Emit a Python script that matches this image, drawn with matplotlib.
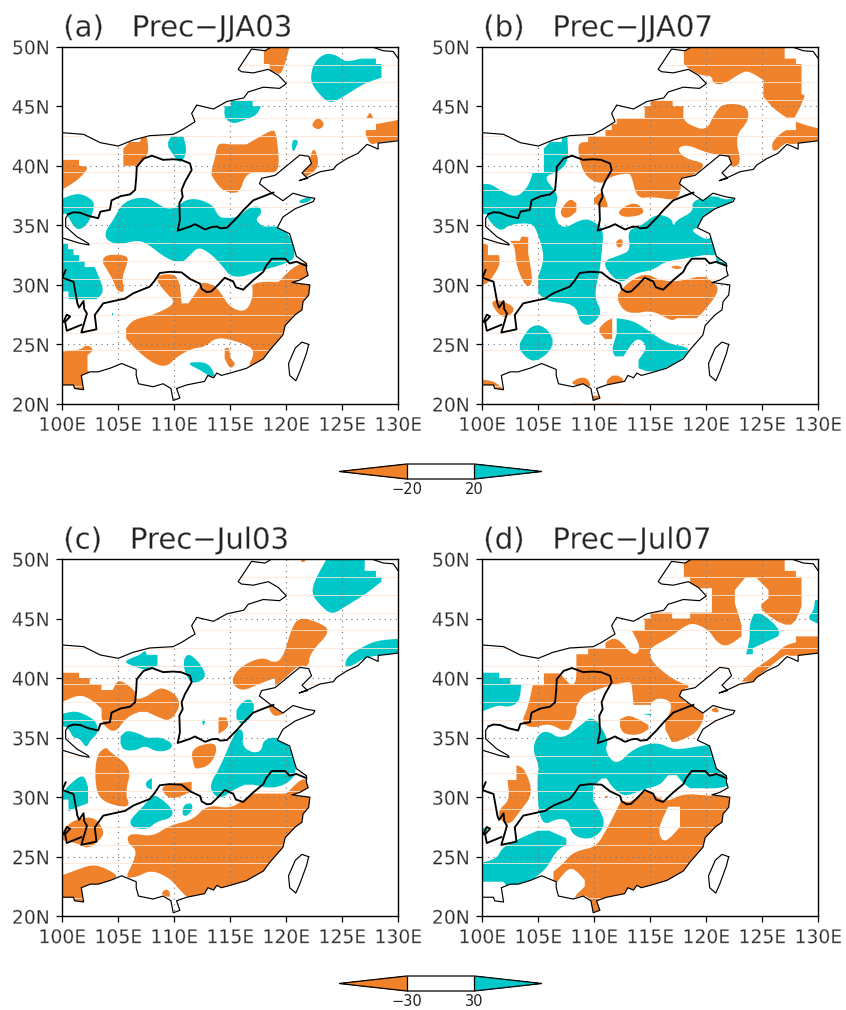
import matplotlib
matplotlib.use("Agg")
import matplotlib.pyplot as plt
import matplotlib.patheffects as pe
from matplotlib.colors import BoundaryNorm, ListedColormap
from matplotlib.colorbar import ColorbarBase
from matplotlib.patches import Polygon

ORANGE = "#f0822c"
TEAL = "#00c8c8"
PEACH = "#fee6d6"

# map outlines, (lon, lat)
north_border = [(100, 42.78), (101.9, 42.64), (103.4, 41.94), (105, 41.66), (106.3, 42.16), (107.8, 42.53),
                (109.9, 42.64), (110.65, 43), (111.85, 43.7), (111.55, 44.4), (112, 45.1), (113.5, 44.77),
                (114.7, 45.4), (116.2, 45.7), (116.6, 46.2), (117.95, 46.6), (119.4, 46.5), (120, 46.9),
                (119.3, 47.6), (118.4, 48.1), (117.05, 47.8), (116, 47.9), (115.7, 48.1), (116.9, 49.8),
                (118.1, 49.66), (118.7, 50)]
north_east = [(127.6, 50), (128.66, 49.66), (129.55, 49.6), (130, 49)]
coast = [(130, 42.1), (128.2, 41.9), (128.2, 41.4), (127.5, 41.7), (127.2, 41.8), (126.4, 41.05), (125.4, 40.6),
         (124.5, 40.06), (124.2, 39.7), (123, 39.5), (122.1, 39.1), (121.15, 38.75), (121.9, 38.95), (121.4, 39.4),
         (122.25, 40.2), (122, 40.8), (121.2, 40.9), (120.3, 40.2), (119, 39.2), (117.8, 38.95), (117.6, 38.5),
         (118.7, 37.7), (119.7, 37.07), (120.6, 37.7), (121.7, 37.4), (122.55, 37.27), (122.4, 37), (120.8, 36.4),
         (119.7, 35.7), (119.2, 34.8), (120.3, 34.3), (120.9, 32.4), (121.8, 31.8), (121.8, 31.25), (121.95, 30.8),
         (121.2, 30.4), (120.5, 30.2), (122.1, 30), (122, 29.15), (121.5, 28.6), (121.4, 27.9), (120.8, 27.5),
         (119.9, 26.6), (119.7, 25.8), (118.5, 24.5), (117.95, 23.8), (116.45, 23), (115, 22.6), (114.2, 22.4),
         (113.8, 22.6), (113.5, 22.2), (113, 22.4), (112.7, 21.9), (111.1, 21.6), (110.2, 21.3), (110.5, 20.5),
         (109.9, 20.3), (109.7, 21.3), (109, 21.7), (108.1, 21.45), (106.8, 21.7), (106.6, 22.4), (106.6, 22.9),
         (105.3, 23.4), (104.25, 23), (103.2, 22.7), (102.5, 22.7), (101.7, 22.4), (101.9, 21.2), (101.1, 21.3),
         (101, 21.6), (100, 21.6)]
taiwan = [(122, 25), (121.4, 25.2), (120.8, 24.7), (120.2, 23.4), (120.3, 22.4), (120.85, 21.95), (121.2, 22.7),
          (121.8, 24.25), (122, 25)]
yellow_upper = [(100.55, 35.95), (100.3, 35.6), (100.3, 34.9), (101.3, 34.05), (102.3, 33.5), (102.4, 33.35),
                (101.55, 33.5), (100, 33.95)]
yellow_river = [(100.55, 35.95), (101, 36.1), (101.6, 36.06), (102.3, 35.8), (103.2, 35.6), (103.4, 36.15),
                (104.25, 36.3), (104.4, 37.1), (105.2, 37.45), (106.05, 37.6), (106.5, 37.97), (106.6, 39),
                (106.65, 39.9), (107.25, 40.6), (108, 40.85), (109, 40.5), (109.9, 40.55), (110.6, 40.5), (111.4, 40.2),
                (111.55, 39.65), (110.95, 38.65), (110.65, 37.97), (110.75, 37.4), (110.45, 36.85), (110.5, 35.45),
                (110.3, 34.55), (111.4, 34.9), (111.85, 35.1), (112.75, 34.65), (113.3, 34.85), (113.8, 34.9),
                (114.1, 34.75), (114.7, 34.8), (115.55, 35.6), (116.2, 36.3), (117.05, 37.1), (118.4, 37.6),
                (118.85, 37.75)]
yangtze_river = [(100.3, 31.25), (100, 30.6), (101, 30.27), (101.35, 28.45), (101.5, 28.1), (101.9, 28.65),
                 (101.95, 28), (102.2, 27.6), (101.7, 26), (103.05, 26.27), (102.9, 27.47), (103.65, 28.45),
                 (104.85, 28.7), (105.6, 28.85), (106.35, 29.3), (107, 29.55), (107.8, 29.85), (108.2, 30.3),
                 (108.7, 31), (109.6, 31.1), (110.65, 31.05), (111.4, 30.5), (112.3, 30.1), (112.45, 29.65),
                 (112.9, 29.4), (113.3, 29.45), (113.9, 30), (114.5, 30.6), (115.25, 30.3), (115.5, 29.8),
                 (116.15, 29.6), (117.05, 30.4), (117.95, 31.1), (118.2, 31.6), (118.7, 32.2), (119.9, 32.2),
                 (120.3, 31.8), (120.9, 31.95), (121.8, 31.6)]
yangtze_branch = [(101.7, 26.65), (100.4, 26.15), (100.25, 26.9), (100.7, 27.35), (100.4, 27.5), (100.1, 26.9)]

# regions below/above the threshold in each panel, (lon, lat)
a_orange = [
    [(118, 50), (120.3, 50), (119.6, 47.6), (118.9, 47.9), (118.55, 48), (118.5, 48.55), (118, 48.55)],
    [(122.25, 43.5), (122.85, 44.1), (123.45, 43.5), (123, 43.05), (122.5, 43.15)],
    [(127.15, 44), (127.5, 44.55), (127.75, 44)],
    [(128, 43.5), (130, 43.85), (130, 42.15), (128.2, 41.95), (127.5, 41.75), (127.1, 42.6), (127.1, 43), (128, 43)],
    [(113.8, 41.6), (114.1, 41.9), (115, 41.8), (116.45, 41.8), (117.65, 42.45), (118.7, 43), (119.1, 42.85),
     (119.4, 40.05), (119, 39.35), (117, 39.5), (116.3, 39.1), (115.85, 37.8), (115.1, 37.7), (114.2, 38),
     (113.35, 39.1), (113.3, 39.5), (113.65, 40.75)],
    [(122.4, 41.6), (122.85, 40.75), (122.8, 39.65), (121.2, 38.8), (121.35, 39.5), (122, 40.2)],
    [(105.45, 41.45), (106, 42), (106.9, 42), (107.1, 42.4), (107.55, 42.4), (107.7, 41.45), (107.55, 40.75),
     (106.8, 40), (105.45, 40)],
    [(100, 40.5), (101.5, 40.5), (101.5, 40), (102.45, 39.9), (101.4, 38.8), (100, 38)],
    [(103.65, 32.2), (104, 32.55), (105.9, 32.5), (105.75, 31.65), (105.3, 30.55), (105.6, 29.35), (104.85, 29.5),
     (104.55, 30.4), (103.65, 31.8)],
    [(108.4, 30.8), (110.05, 30.95), (110.5, 30.1), (110.65, 28.45), (111.25, 28.45), (112.3, 29.85), (112.45, 30.25),
     (113.5, 30), (114.2, 29.3), (114.8, 28.3), (115.85, 27.75), (116.6, 28), (117.05, 29.15), (116.9, 30.1),
     (117.95, 30.25), (119.3, 30.25), (120.6, 31.5), (121.8, 31.95), (123, 31.5), (123, 28.7), (121.2, 25.95),
     (118.25, 23.15), (116.45, 22.9), (117.3, 24.5), (115.85, 25.2), (113.8, 25.65), (112.75, 24.8), (111.55, 24.65),
     (110.2, 23.95), (109.3, 23.1), (108.1, 23.4), (106.65, 24.5), (105.7, 25.5), (105.7, 26.35), (106.35, 27.1),
     (108.1, 27.45), (110.2, 28.45), (109.3, 29.3), (108.55, 30.15)],
    [(114.5, 24.65), (114.9, 24.8), (115, 23.8), (115.5, 23.4), (115, 22.9), (114.5, 23.8)],
    [(100, 24.4), (101.6, 24.55), (102.2, 25), (102.85, 24.55), (102.25, 24.1), (102.25, 22.85), (102.5, 22.6),
     (101.75, 22.4), (101.9, 21.2), (100, 21.2)],
]
a_teal = [
    [(122.55, 48.75), (123.45, 49.45), (124.5, 49.3), (125.25, 48.7), (126.7, 49), (128, 49), (128, 48.55),
     (128.5, 48.55), (128.5, 47.4), (126.9, 46.9), (125.1, 45.8), (123.9, 45.2), (123, 45.95), (122.25, 46.9),
     (122.2, 47.75)],
    [(114.5, 45), (115.05, 45), (115.05, 45.45), (117, 45.45), (117, 45), (117.75, 45), (117.35, 44.25),
     (116.3, 43.85), (115.25, 43.5), (114.45, 44)],
    [(120.5, 42.2), (121.05, 42.15), (121, 41.8), (120.55, 41)],
    [(109.45, 42), (109.75, 42.5), (110.8, 42.5), (111.1, 41.45), (110.95, 40.75), (110.5, 40.2), (109.9, 40.9),
     (109.45, 41.6)],
    [(100, 37.25), (101.45, 37.75), (102.75, 37.15), (102.85, 36.4), (102.3, 35.15), (101.55, 34.6), (101, 34.9),
     (100.4, 36), (100, 35.95)],
    [(104.55, 35.45), (105.45, 37), (107.4, 37.45), (108.7, 36.7), (109.45, 36.35), (110.2, 36.55), (111.4, 37.35),
     (113.35, 36.85), (113.95, 35.7), (114.65, 35.6), (115.7, 35.7), (116.75, 36.55), (117.65, 36.6), (117.8, 36),
     (117.2, 35.45), (117.95, 34.9), (119.15, 34.9), (120.3, 34.3), (120.9, 32.35), (120, 31.8), (117.95, 31.25),
     (115.25, 30.45), (114.1, 31.8), (113.2, 32.65), (112.15, 33.2), (111.4, 32.5), (110.65, 31.8), (109.3, 32.2),
     (107.55, 33.5), (106.65, 33.75), (105, 33.35), (103.95, 33.75), (103.8, 34.45)],
    [(100, 33.5), (100.5, 33.5), (100.5, 33), (101, 33), (101, 32.5), (101.5, 32.5), (101.5, 32), (102, 32),
     (102, 31.5), (102.9, 31.5), (103.8, 29.45), (103.05, 28.8), (100.55, 28.8), (100.55, 29.45), (100, 29.45)],
    [(111.05, 23.45), (112.45, 23.55), (113.2, 23.25), (113.65, 22.3), (113.2, 22.3), (112.3, 22.85)],
    [(121, 37), (121.8, 37.35), (122.4, 37.2), (121.5, 36.8)],
    [(104.4, 27.6), (104.55, 27.6), (104.55, 27.4), (104.4, 27.4)],
]

b_orange = [
    [(118.4, 50), (127, 50), (127, 49), (128, 49), (128, 48.55), (128.5, 48.55), (128.5, 46), (128.9, 45.95),
     (127.9, 44.05), (127.15, 44.05), (126, 44.8), (125.1, 45.8), (125.1, 47.2), (123.75, 48), (123, 47.75),
     (121.5, 46.8), (120.6, 46.9), (120.5, 47.55), (119.45, 47.6), (118.5, 48.1), (118, 48.55), (118, 49.6)],
    [(114.5, 45), (115.05, 45), (115.05, 45.45), (117, 45.45), (117, 45), (117.95, 45), (117.95, 44.05),
     (118.25, 43.55), (120, 42.9), (120.75, 44.4), (121.5, 45.25), (123.6, 45.1), (123.85, 43.85), (122.55, 42.45),
     (123.15, 40.2), (122.25, 39.8), (121.35, 40.9), (120, 41.1), (118.25, 41.8), (117.35, 41.45), (118.1, 40.6),
     (120, 40.2), (119.15, 39.35), (117.8, 38.8), (117.65, 37.55), (117.05, 37.1), (115.25, 37.4), (113.8, 37.25),
     (113.35, 39.1), (113.05, 39.4), (111.4, 39.1), (110.65, 38.4), (109, 39.2), (108.4, 41.95), (109.45, 42),
     (109.45, 42.5), (111, 42.5), (111, 43), (111.55, 43), (111.55, 43.5), (112, 43.5), (112, 44), (114.5, 44)],
    [(127.15, 43), (128, 43), (128, 43.7), (129.1, 43.35), (130, 43.15), (130, 42.15), (127.5, 41.75), (127.15, 42),
     (126, 41.05), (125.8, 41.9), (126.6, 42.7)],
    [(106.95, 36.3), (107.85, 37.3), (108.4, 36.85), (108.4, 36.15), (107.7, 35.6), (107.1, 35.7)],
    [(109.75, 37.05), (110.65, 37.9), (110.95, 37.4), (111.3, 36.4), (110.5, 36.55)],
    [(112, 36.15), (113.5, 37), (114.45, 36.35), (114.25, 35.85), (112.6, 35.65)],
    [(111.85, 33.6), (112.45, 33.95), (112.6, 33.35), (112.15, 33.05)],
    [(116.75, 31.5), (117.35, 31.65), (117.95, 31.45), (117.35, 31.3)],
    [(100, 33.5), (100.5, 33.35), (100.5, 32.5), (101.5, 32.5), (101.6, 31.65), (100.55, 30.15), (100, 30)],
    [(102.5, 33.7), (103.35, 33.7), (103.5, 34.1), (104.1, 34), (104.1, 32.65), (104.55, 30.25), (103.95, 29.7),
     (103.05, 31.5), (102.9, 33.2)],
    [(100.7, 28.6), (101.6, 28.75), (103.05, 28.05), (102.2, 27.2), (101.45, 27.5)],
    [(112, 28.85), (112.3, 29.55), (113.5, 30.55), (114.65, 30.95), (115.85, 30.4), (117.35, 30.25), (119.75, 30.8),
     (120.6, 30.25), (121.2, 29.55), (120, 28), (119.15, 27.2), (117.35, 27.2), (116.9, 26.95), (115.25, 27.85),
     (113.5, 27.6), (112.6, 27.85)],
    [(110.3, 26.2), (110.95, 26.9), (111.6, 27.2), (111.6, 25.45), (110.95, 25.45)],
    [(107.85, 21.75), (108.7, 22.25), (109.45, 22.15), (109.75, 21.3), (108.7, 21.5)],
    [(110.95, 21.9), (111.85, 22.55), (112.9, 21.9), (111.4, 21.3)],
    [(100, 22.05), (101.1, 21.9), (101.95, 21.2), (100, 21.2)],
    [(109.75, 20.7), (110.5, 20.7), (110.4, 20.2), (109.75, 20.2)],
]
b_teal = [
    [(100, 38.45), (100.7, 38.5), (101.6, 37.95), (103.05, 37.3), (104.1, 38.25), (104.5, 39.4), (105.5, 39.4),
     (105.5, 41.45), (106.05, 42), (107.1, 42), (107.1, 42.4), (107.6, 42.4), (107.7, 40.35), (106.8, 39.5),
     (105.5, 39.1), (106.3, 38.1), (106.8, 37.4), (106.35, 36), (107.1, 34.6), (109, 35.6), (110.05, 35.3),
     (110.85, 34.6), (110.65, 32.65), (110.5, 31.25), (110.2, 30.1), (110.05, 28.9), (110.65, 27.75), (110.2, 27.05),
     (109.45, 26.55), (108.7, 26.9), (108.3, 28.4), (105.75, 28.6), (105, 29.3), (105, 30.7), (105.6, 32.35),
     (104.85, 34.6), (104.4, 35.2), (102.5, 35.1), (101.6, 34.45), (100.55, 35.45), (100.4, 35.95), (100, 35.95)],
    [(112.95, 34.6), (114.1, 34.9), (115.55, 36), (116.9, 35.6), (117.05, 34.9), (117.35, 35.45), (118.85, 36.15),
     (118.7, 37.05), (120.6, 37.55), (121.8, 37.1), (122.7, 37.4), (121.2, 36), (119.2, 34.8), (118.6, 34.55),
     (120.1, 33.7), (120.6, 34.3), (121.2, 32.5), (119.75, 32.5), (117.95, 32.2), (116.3, 31.95), (115.25, 31.25),
     (113.5, 30.95), (112.6, 30.2), (111.7, 30.55), (110.65, 31.95), (112.3, 32.5), (113.25, 32.9)],
    [(120.9, 32.4), (121.8, 31.8), (121.65, 31.6), (120.9, 31.8)],
    [(112, 27.2), (113.5, 27), (115, 26.05), (116.45, 25.1), (118.7, 24.7), (117.95, 23.85), (116.45, 23), (115, 22.65),
     (113.95, 23), (113.95, 23.7), (114.8, 24.8), (113.8, 25.7), (112.6, 24), (111.85, 24), (111.55, 24.55), (112, 25.9)],
    [(103.35, 25.1), (104.1, 26.35), (105, 26.7), (105.9, 26.2), (106.4, 25.2), (105.9, 24.25), (104.7, 23.55),
     (103.95, 23.85), (103.35, 24.55)],
]

c_orange = [
    [(121.2, 50), (121.8, 50), (121.5, 49.65)],
    [(120.5, 44.3), (121.2, 45.1), (122.7, 44.75), (124.05, 44), (122.1, 42.1), (122, 40.95), (121.2, 41.1),
     (120.35, 40.4), (119, 39.3), (119, 40), (117.65, 39.55), (116, 38.85), (115, 39.7), (115.85, 40.95), (117.8, 41.8),
     (119, 41.25), (119.75, 41.8)],
    [(100, 40.45), (101.5, 40.45), (101.5, 40), (102.45, 40), (102.45, 39.5), (103.5, 39.5), (103.5, 39), (104.5, 39),
     (105, 40), (106.65, 38.85), (106.5, 38.15), (107.55, 38.45), (108.3, 39), (109, 39.2), (110.2, 38.6),
     (110.55, 37.6), (109.6, 36.35), (108.5, 36.75), (107.25, 37.3), (105.75, 36.75), (104.7, 35.35), (103.65, 36.05),
     (103.5, 36.75), (103.5, 37.45), (102.45, 38.3), (101.45, 38.6), (100, 38)],
    [(113.95, 36.7), (114.65, 36.7), (114.9, 35.9), (113.95, 35.3)],
    [(118.4, 37.75), (119, 37.6), (119.9, 37.05), (119, 36.75), (118.55, 37.2)],
    [(111.45, 34.1), (113.5, 34.65), (113.85, 33.95), (113.2, 32.7), (112, 32.35), (111.75, 32.55)],
    [(103.05, 33.55), (103.9, 34.25), (104.25, 33.8), (106.2, 32.5), (105.6, 30.3), (106.05, 29.35), (105.3, 29.15),
     (103.35, 29.75), (102.9, 31.3)],
    [(108.7, 31), (111.55, 31.3), (111.55, 30.5), (110.2, 29.9), (109.3, 30)],
    [(105.8, 26.7), (106.35, 26.95), (108.1, 26.7), (109.6, 27.65), (111.7, 28.1), (112.9, 29.35), (115, 29.05),
     (116.15, 29.75), (117.05, 30.3), (120, 30.3), (121.05, 31.3), (121.65, 31.6), (122.4, 31), (123, 29.8), (123, 29),
     (121.2, 25.85), (118.25, 23.05), (116.45, 22.75), (115, 22.35), (112.9, 21.65), (111.25, 21.5), (110.5, 22.2),
     (109.6, 23.2), (107.95, 23.9), (106.65, 23.3), (105.6, 23.2), (106.3, 24.45), (106.65, 25.55), (105.9, 26.1)],
    [(108.7, 21.9), (109.45, 22.4), (109.7, 21.5)],
    [(100, 23.45), (101.3, 23.9), (102.5, 24.3), (103.5, 24.2), (105.15, 23.35), (103.95, 22.9), (103.2, 22.5),
     (101.75, 22.5), (101.9, 21.2), (100, 21.2)],
    [(100.55, 27.75), (101.45, 28.2), (102.9, 28.35), (103.8, 27.1), (103.35, 26.4), (102.3, 25.65), (101.45, 26.1),
     (100, 26.4), (100, 27.1)],
]
c_teal = [
    [(123.6, 50), (127, 50), (127, 49), (128, 49), (128, 48.5), (128.5, 48.5), (128.5, 48.1), (127, 47), (125.25, 46),
     (124.05, 45.3), (123, 46.15), (122.25, 47.1), (122.55, 48.25)],
    [(125.2, 40.8), (125.4, 41.8), (126.6, 42.5), (128, 43.15), (130, 43.3), (130, 42.1), (127.15, 41.8), (126, 41.1)],
    [(105.5, 41.3), (106.05, 41.65), (106.95, 41.95), (107.4, 42.35), (107.55, 41.95), (108.5, 41.95), (108.5, 41.1),
     (107.85, 40.6), (106.95, 40.8)],
    [(110.8, 41.5), (111.25, 42.1), (112.15, 41.4), (112.8, 40.4), (112.6, 39.85), (111.55, 39.5), (110.95, 40.4)],
    [(100, 37), (101.15, 37.25), (102.15, 36.9), (103.05, 36.35), (103.2, 35.35), (102.5, 34.8), (102.15, 34.1),
     (101.55, 34.95), (100.95, 35), (100.55, 35.8), (100, 36)],
    [(105.2, 35.1), (105.75, 35.65), (106.95, 35.3), (107.55, 34.95), (108.75, 35.05), (109.9, 34.5), (109.6, 33.95),
     (108.4, 33.8), (107.4, 34.35), (106.5, 33.9), (105.45, 33.95), (105.2, 34.5)],
    [(115.55, 37.3), (116.05, 38), (116.8, 38.3), (117.2, 37.6), (116.8, 36.6), (116.05, 36.05), (115.55, 36.6)],
    [(112.45, 36.55), (112.8, 36.45), (112.6, 35.9)],
    [(113.15, 31.05), (114.1, 32.55), (115.1, 34.8), (115.7, 35.8), (116.2, 35.5), (116.05, 34.25), (117.05, 33.7),
     (117.8, 33.9), (117.95, 34.8), (119.15, 35.1), (120.3, 34.4), (121.05, 32.15), (120, 31.05), (118.55, 30.75),
     (117.05, 31.05), (116.3, 31.05), (115.25, 30.6), (114.2, 29.9), (113.5, 30.2)],
    [(100, 30.3), (100.55, 31), (101.9, 32), (102.3, 30.85), (102.3, 29.5), (101.15, 29.1), (100.55, 28.8),
     (100.55, 29.8), (100, 29.8)],
    [(107.45, 31.3), (108, 31.6), (108, 30.65), (107.5, 30.8)],
    [(105.95, 27.95), (106.75, 28.8), (107.5, 29.5), (107.95, 30.2), (108.7, 30), (109.9, 28.95), (109.75, 28.25),
     (108.4, 27.95), (107.65, 27.3), (106.35, 27.4)],
    [(110.8, 29.35), (111.55, 29.55), (111.65, 28.95), (111.1, 28.4), (110.7, 28.5)],
]

d_orange = [
    [(118, 50), (127, 50), (127, 49), (128, 49), (128, 48.5), (128.5, 48.5), (128.5, 46), (127.6, 44), (124.5, 45.9),
     (125.55, 46.7), (125.55, 47.4), (124.5, 48.4), (123.45, 48.4), (122.55, 47.4), (122.55, 46.3), (123.15, 44.45),
     (123.15, 43.5), (121.8, 42.6), (120.9, 43.05), (120.2, 44.05), (118.85, 44.65), (117.95, 44.3), (116.9, 43.5),
     (115.1, 42.6), (114.9, 42.1), (115.25, 41.25), (117.05, 39.85), (118.7, 39.3), (117.8, 39), (117.65, 38.3),
     (118.85, 37.6), (120, 37.05), (119.15, 35.35), (117.35, 34.65), (116.9, 34.65), (116.15, 36.05), (116.9, 37.3),
     (116.75, 38.15), (115.55, 38.35), (114.95, 37.75), (113.5, 37.75), (113.35, 39.55), (113.05, 39.7), (111.4, 39.4),
     (110.65, 39.15), (109, 38.6), (108.4, 37.6), (108.4, 37.05), (107.7, 35.65), (107.1, 35.65), (105.9, 36.2),
     (104.55, 35.8), (103.45, 36.2), (104.1, 37.6), (104.5, 39.4), (105.5, 39.4), (105.5, 40.4), (106.8, 40.4),
     (107.1, 40.25), (107.95, 39.3), (108.35, 39.7), (108.4, 40.4), (108.4, 42), (109.45, 42), (109.45, 42.5),
     (111, 42.5), (111, 43), (112, 43.5), (113.5, 41.8), (114.2, 42.5), (113.35, 44), (114.5, 44), (114.5, 45),
     (115.05, 45), (115.05, 45.5), (116.95, 45.5), (116.95, 45), (118.55, 45), (118.55, 45.5), (120.5, 45.5),
     (120.5, 47.55), (118.55, 47.55), (118.55, 48.5), (118, 48.5)],
    [(128, 43.5), (130, 43.5), (130, 42.1), (127.5, 41.8), (127.15, 42.05), (125.7, 41), (124.2, 39.7), (123.15, 39.7),
     (124.2, 40.7), (126, 41.8), (127, 42.75), (128, 43)],
    [(112.3, 36.55), (113.05, 36.9), (114.05, 36.5), (115.1, 35.9), (114.05, 35.2), (112.6, 35.3), (112.3, 35.9)],
    [(120.9, 37.65), (121.2, 37.05), (120.3, 37.25)],
    [(103.05, 32.7), (103.8, 32.4), (104.55, 30.3), (103.35, 28.8), (102.45, 27.65), (101.55, 28.1), (101.45, 28.95),
     (102.45, 29.75), (102.25, 31.45), (103.05, 31.45)],
    [(110.95, 30.1), (111.25, 30.1), (111.1, 29.9)],
    [(106.35, 23.75), (107.25, 24.45), (107.85, 25.15), (108.7, 25.55), (110.2, 25.85), (111.25, 27.55), (112, 28.95),
     (112.45, 29.8), (113.05, 29.5), (114.1, 30.2), (114.65, 30.65), (115.55, 30.05), (116.45, 29.6), (117.95, 30.3),
     (120, 30.15), (122.25, 30.05), (123, 28.95), (121.2, 25.85), (118.25, 23.05), (116.45, 22.75), (115, 22.35),
     (112.9, 21.65), (110.5, 21.5), (110.65, 20.25), (109.6, 20.25), (109.65, 21.5), (109, 21.8), (108.05, 21.5),
     (109.15, 22.5), (109.15, 23.05), (107.95, 24.25), (106.9, 23.2), (106.65, 22.75), (106.35, 23.05)],
]
d_teal = [
    [(124.5, 45.85), (127, 43.75), (125.35, 43.05), (124.15, 42.5), (124.15, 42), (123.55, 42), (123.9, 43.3),
     (123.85, 44.6)],
    [(129.7, 46.55), (130, 46.55), (130, 44.55), (129, 45), (129.6, 45.7)],
    [(114.3, 37), (115.1, 37), (115.05, 36.85)],
    [(104.5, 33.95), (104.85, 35.1), (105.7, 35.65), (107.1, 34.8), (109, 36.2), (109.6, 36.7), (110.35, 36.35),
     (111.25, 34.8), (110.95, 33.8), (112, 32.65), (113.5, 34.1), (115.55, 34.65), (117.05, 34), (118.25, 34.1),
     (119.45, 34.3), (120.6, 34.4), (121.05, 32.4), (122.1, 31.7), (122, 30.9), (120.8, 30.75), (118.55, 30.75),
     (117.95, 31.15), (117.35, 31.85), (116.6, 31.85), (115.85, 31), (114.65, 30.75), (112.9, 30.1), (112.3, 30.3),
     (111.55, 30.9), (110.95, 31.8), (109.9, 30.9), (109.9, 29.75), (110.85, 28.35), (110.8, 27.25), (109.6, 26.4),
     (108, 26.8), (107.7, 28.1), (106.65, 28.2), (105.5, 27.65), (105, 28.9), (104.9, 31.7), (105.1, 32.55)],
    [(100, 40.45), (101.5, 40.45), (101.5, 40), (102.5, 40), (102.5, 39.5), (103.5, 39.5), (103.3, 37.95),
     (102.3, 37.55), (101.45, 37.75), (100, 37.2)],
    [(100, 24.5), (101.3, 24.85), (101.8, 25.8), (103.35, 26.55), (105.45, 27.4), (107.5, 26.55), (107.5, 26),
     (106.65, 25.55), (105.75, 24.05), (104.85, 23.35), (104.25, 22.85), (103.2, 22.5), (102.2, 22.5), (101.9, 22.9),
     (100, 22.9)],
    [(100, 27.4), (100.55, 27.6), (100.4, 27.15), (100, 27)],
]
d_white = [[(116.6, 29.2), (117.65, 29.2), (117.65, 27.5), (116.6, 26.4), (116, 26.35), (115.7, 27.4)]]

panel_titles = ["(a)   Prec\u2212JJA03", "(b)   Prec\u2212JJA07", "(c)   Prec\u2212Jul03", "(d)   Prec\u2212Jul07"]
panel_orange = [a_orange, b_orange, c_orange, d_orange]
panel_teal = [a_teal, b_teal, c_teal, d_teal]
panel_white = [[], [], [], d_white]
lon_ticks = [100, 105, 110, 115, 120, 125, 130]
lat_ticks = [20, 25, 30, 35, 40, 45, 50]
peach_lats = [21.5, 24.5, 26, 27.5, 29, 30.5, 32, 33.5, 36.5, 38, 39.5, 41, 42.5, 44, 45.5, 47, 48.5]
cbar_levels = [[-20, 20], [-30, 30]]

W, H = 846, 1010
plt.rcParams["font.family"] = "DejaVu Sans"
fig = plt.figure(figsize=(W / 100, H / 100), dpi=100)
thin = [pe.Normal(), pe.Stroke(linewidth=0.3, foreground="white")]


def px_axes(left, top, right, bottom):
    return fig.add_axes([left / W, 1 - bottom / H, (right - left) / W, (bottom - top) / H])


def round_corners(poly, rounds=2):
    # cut the corners of the contours, grid steps (level edges) stay square
    for _ in range(rounds):
        out = []
        n = len(poly)
        for k in range(n):
            px, py = poly[k - 1]
            x, y = poly[k]
            nx, ny = poly[(k + 1) % n]
            if x == px or y == py or x == nx or y == ny:
                out.append((x, y))
            else:
                out.append((x + (px - x) * 0.25, y + (py - y) * 0.25))
                out.append((x + (nx - x) * 0.25, y + (ny - y) * 0.25))
        poly = out
    return poly


boxes = [(62.3, 46.7, 398.3, 404), (482.3, 46.7, 818.3, 404), (62.3, 559, 398.3, 916.3), (482.3, 559, 818.3, 916.3)]
land = north_border + north_east + coast

for i, box in enumerate(boxes):
    ax = px_axes(*box)
    ax.set_xlim(100, 130)
    ax.set_ylim(20, 50)
    mask = Polygon(land, closed=True, fc="none", ec="none")
    ax.add_patch(mask)
    for polys, color in ((panel_orange[i], ORANGE), (panel_teal[i], TEAL), (panel_white[i], "white")):
        for poly in polys:
            ax.add_patch(Polygon(round_corners(poly), closed=True, fc=color, ec="none", zorder=2)).set_clip_path(mask)
    # the pale level lines and the dotted grid only show over land
    for lat in peach_lats:
        ax.plot([100, 130], [lat, lat], color=PEACH, lw=0.6, zorder=3)[0].set_clip_path(mask)
    for lon in lon_ticks[1:-1]:
        ax.plot([lon, lon], [20, 50], color="#777777", lw=0.8, ls=(0, (1, 4)), zorder=4)[0].set_clip_path(mask)
    for lat in lat_ticks[1:-1]:
        ax.plot([100, 130], [lat, lat], color="#777777", lw=0.8, ls=(0, (1, 4)), zorder=4)[0].set_clip_path(mask)
    for line in [north_border, north_east, coast, taiwan, yellow_upper]:
        ax.plot(*zip(*line), color="black", lw=0.85, zorder=5)
    for line in [yellow_river, yangtze_river, yangtze_branch]:
        ax.plot(*zip(*line), color="black", lw=1.35, zorder=6)
    if i in (1, 3):
        ax.plot([108, 112.4], [20.05, 20.05], color=PEACH, lw=1.0, zorder=3)
    ax.set_xticks(lon_ticks)
    ax.set_yticks(lat_ticks)
    ax.set_xticklabels([f"{v}E" for v in lon_ticks])
    ax.set_yticklabels([f"{v}N" for v in lat_ticks])
    ax.tick_params(length=4, width=0.9, labelsize=13.5, pad=4.5, labelcolor="#222222")
    ax.tick_params(axis="y", pad=5)
    for lab in ax.get_xticklabels() + ax.get_yticklabels():
        lab.set_path_effects(thin)
    for s in ax.spines.values():
        s.set_linewidth(1.0)
        s.set_zorder(7)
    ax.text(0.003, 1.012, panel_titles[i], transform=ax.transAxes, fontsize=21, color="#222222",
            ha="left", va="bottom", path_effects=thin)

for levels, top, bottom in zip(cbar_levels, (464, 976), (479, 991)):
    cax = px_axes(339, top, 542, bottom)
    cmap = ListedColormap(["white"]).with_extremes(under=ORANGE, over=TEAL)
    cb = ColorbarBase(cax, cmap=cmap, norm=BoundaryNorm(levels, 1), orientation="horizontal", extend="both",
                      extendfrac=1.0, ticks=levels, drawedges=True)
    cb.outline.set_linewidth(0.9)
    cb.dividers.set_linewidth(0.9)
    cb.dividers.set_color("black")
    cax.tick_params(length=0, labelsize=10.5, pad=2, labelcolor="#222222")
    cax.set_xticklabels(["\u2212" + str(levels[1]), str(levels[1])])

fig.savefig("out.png", dpi=100)
